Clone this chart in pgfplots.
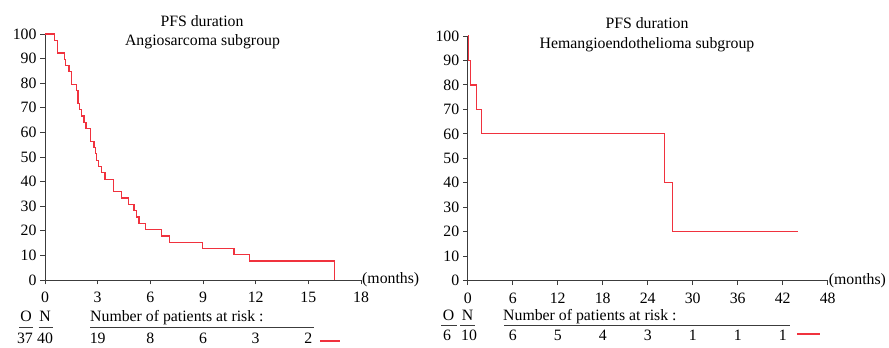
\documentclass[border=0pt]{standalone}
\usepackage{fontspec}
\setmainfont{Liberation Serif}
\usepackage{pgfplots}
\pgfplotsset{compat=1.18}
\definecolor{kmred}{RGB}{240,50,62}
\definecolor{axgray}{RGB}{60,60,60}
\newcommand{\kmfont}{\fontsize{15.8}{18}\selectfont}
\begin{document}
\kmfont
\begin{tikzpicture}[x=1pt,y=1pt]
\useasboundingbox (0,0) rectangle (889,348);
\pgfplotsset{
  kmaxis/.style={
    scale only axis,
    anchor=south west,
    axis lines=left,
    axis line style={axgray, line width=0.9pt, -},
    tick style={axgray, line width=0.9pt},
    tick align=outside,
    major tick length=4.5pt,
    ymin=0, ymax=100,
    ytick={0,10,...,100},
    /pgf/number format/assume math mode=true,
    tick label style={font=\kmfont, text=black},
    yticklabel style={xshift=1.5pt},
    xticklabel style={yshift=-2pt},
    xlabel={(months)},
    xlabel style={at={(rel axis cs:1,0)}, anchor=west, inner sep=1pt, font=\kmfont},
    clip=false,
  }
}
% Left panel: Angiosarcoma
\begin{axis}[kmaxis, at={(45pt,68pt)}, width=316pt, height=246pt,
  xmin=0, xmax=18, xtick={0,3,...,18}]
\addplot[const plot, kmred, line width=1.2pt] coordinates {
 (0,100) (0.53,97.4) (0.70,92.3) (1.10,89.7) (1.18,87.2) (1.37,84.6)
 (1.52,79.5) (1.81,76.9) (1.88,71.8) (1.96,69.2) (2.07,66.7) (2.22,64.1)
 (2.34,61.5) (2.60,56.4) (2.79,53.8) (2.87,51.3) (2.95,48.7) (3.04,46.2)
 (3.21,43.6) (3.42,41.0) (3.89,35.9) (4.37,33.3) (4.75,30.8) (5.07,28.2)
 (5.19,25.6) (5.36,23.1) (5.74,20.5) (6.65,17.9) (7.08,15.4) (8.99,12.8)
 (10.77,10.3) (11.64,7.7) (16.48,0)
};
\end{axis}
% Right panel: Hemangioendothelioma
\begin{axis}[kmaxis, at={(467.7pt,67.3pt)}, width=360pt, height=244.7pt,
  xmin=0, xmax=48, xtick={0,6,...,48}]
\addplot[const plot, kmred, line width=1.2pt] coordinates {
 (0,100) (0.1,90) (0.4,80) (1.2,70) (1.87,60) (26.2,40) (27.3,20) (44.1,20)
};
\end{axis}
% Titles
\node[anchor=base] at (202,321.3) {PFS duration};
\node[anchor=base] at (202.5,302.3) {Angiosarcoma subgroup};
\node[anchor=base] at (647,319.7) {PFS duration};
\node[anchor=base] at (647,299.7) {Hemangioendothelioma subgroup};
% Left risk table
\node[anchor=base] at (26,26.3) {O};
\node[anchor=base] at (45,26.3) {N};
\draw[axgray, line width=1pt] (19,20.3) -- (33.3,20.3);
\draw[axgray, line width=1pt] (38.5,20.3) -- (53,20.3);
\node[anchor=base west, inner sep=0pt] at (90,26.3) {Number of patients at risk :};
\draw[axgray, line width=1.3pt] (90,20.3) -- (314,20.3);
\node[anchor=base] at (25,4.3) {37};
\node[anchor=base] at (45,4.3) {40};
\foreach \m/\n in {3/19,6/8,9/6,12/3,15/2} {
  \node[anchor=base] at ({45+\m*17.556},4.3) {\n};
}
\draw[kmred, line width=1.2pt] (320,7) -- (340,7);
% Right risk table
\node[anchor=base] at (448.5,27.3) {O};
\node[anchor=base] at (467.5,27.3) {N};
\draw[axgray, line width=1pt] (441,22.3) -- (456.7,22.3);
\draw[axgray, line width=1pt] (460,22.3) -- (475,22.3);
\node[anchor=base west, inner sep=0pt] at (503,27.3) {Number of patients at risk :};
\draw[axgray, line width=1.3pt] (504,22.3) -- (790,22.3);
\node[anchor=base] at (447,7) {6};
\node[anchor=base] at (469,7) {10};
\foreach \m/\n in {6/6,12/5,18/4,24/3,30/1,36/1,42/1} {
  \node[anchor=base] at ({467.7+\m*7.5},7) {\n};
}
\draw[kmred, line width=1.2pt] (797,14) -- (820,14);
\end{tikzpicture}
\end{document}
